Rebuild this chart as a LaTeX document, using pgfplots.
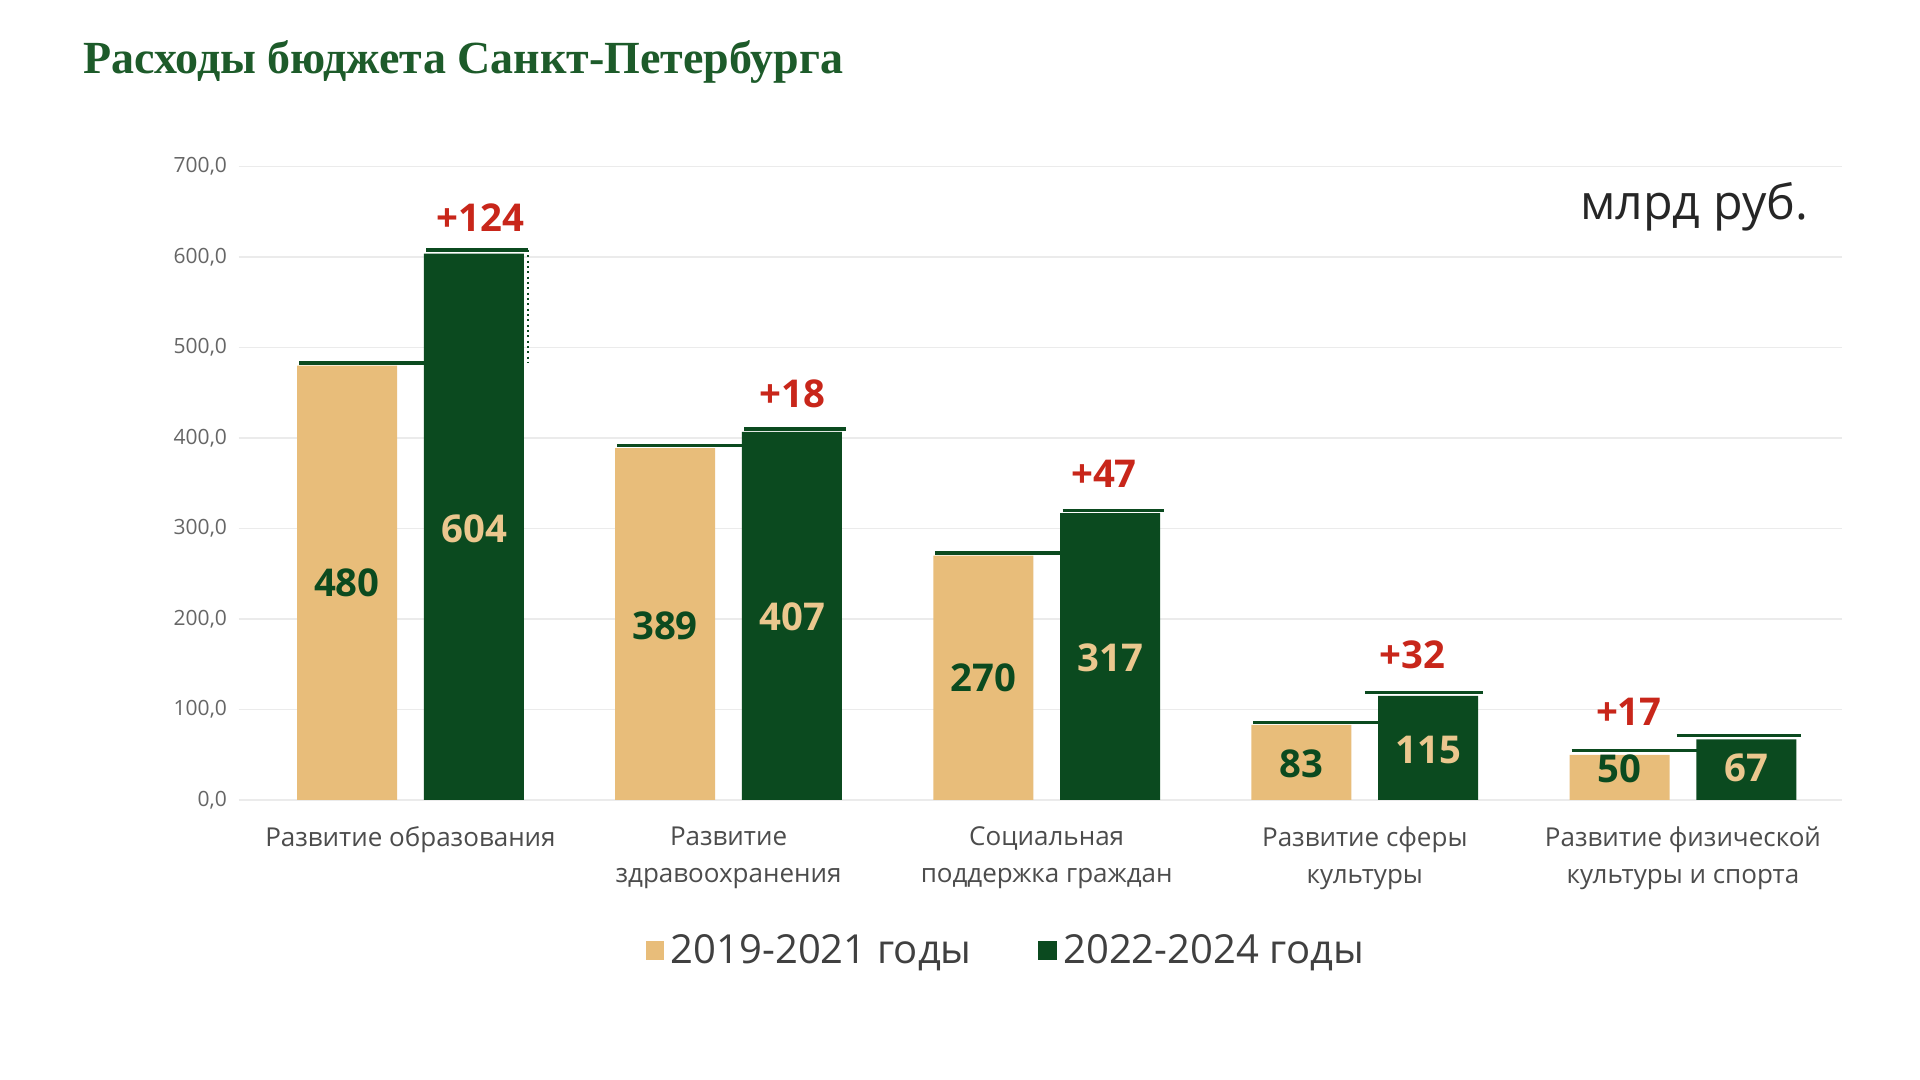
\documentclass[border=0pt]{standalone}
\usepackage{pgfplots}
\pgfplotsset{compat=1.18}
\usepackage{fontspec}
\setmainfont{Open Sans}
\newfontfamily\titlefont{Liberation Serif}
\definecolor{beige}{HTML}{E8BD7A}
\definecolor{dgreen}{HTML}{0B4A1F}
\definecolor{tgreen}{HTML}{1D5B2A}
\definecolor{dred}{HTML}{C8261A}
\begin{document}
\begin{tikzpicture}
\path[fill=white] (0,0) rectangle (576pt,324pt);
\node[anchor=west,text=tgreen,font=\titlefont\bfseries\fontsize{13.8}{15}\selectfont] at (21.5pt,305.5pt) {Расходы бюджета Санкт-Петербурга};
\node[anchor=east,font=\fontsize{14.5}{16}\selectfont,text=black!85] at (546pt,262pt) {млрд руб.};
\begin{axis}[at={(71.6pt,84pt)},anchor=south west,scale only axis,width=481pt,height=190pt,
 xmin=-0.54,xmax=4.5,ymin=0,ymax=700,ytick={0,100,...,700},
 axis line style={draw=none}, ymajorgrids, grid style={black!8},
 yticklabel style={font=\fontsize{6.3}{7}\selectfont,text=black!60},
 /pgf/number format/.cd,fixed,fixed zerofill,precision=1,use comma,assume math mode=true,
 /pgfplots/.cd,
 xtick={0,1,2,3,4}, xticklabels={{Развитие образования},{Развитие\\здравоохранения},{Социальная\\поддержка граждан},{Развитие сферы\\культуры},{Развитие физической\\культуры и спорта}},
 xticklabel style={align=center,font=\fontsize{7.8}{11}\selectfont,text=black!70,anchor=north,yshift=-4.5pt},
 major tick length=0pt,
 legend style={at={(0.48,-0.19)},anchor=north,draw=none,legend columns=2,font=\fontsize{12}{13}\selectfont,text=black!75,/tikz/every even column/.append style={column sep=18pt}},
 legend image code/.code={\fill[#1] (0pt,-2.6pt) rectangle (5.5pt,3pt);},
 clip=false]
\addplot[ybar,bar width=30pt,fill=beige,draw=none,bar shift=-19pt] coordinates {(0,480)(1,389)(2,270)(3,83)(4,50)};
\addlegendentry{2019-2021 годы}
\addplot[ybar,bar width=30pt,fill=dgreen,draw=none,bar shift=19pt] coordinates {(0,604)(1,407)(2,317)(3,115)(4,67)};
\addlegendentry{2022-2024 годы}
\addplot[forget plot,dgreen,line width=1pt] coordinates {(-0.35,483)(0.05,483)};
\addplot[forget plot,dgreen,line width=1pt] coordinates {(0.05,608)(0.37,608)};
\addplot[forget plot,dgreen,line width=0.6pt,densely dotted] coordinates {(0.37,608)(0.37,483)};
\addplot[forget plot,dgreen,line width=1pt] coordinates {(0.65,392)(1.05,392)};
\addplot[forget plot,dgreen,line width=1pt] coordinates {(1.05,410)(1.37,410)};
\addplot[forget plot,dgreen,line width=1pt] coordinates {(1.65,273)(2.05,273)};
\addplot[forget plot,dgreen,line width=1pt] coordinates {(2.05,320)(2.37,320)};
\addplot[forget plot,dgreen,line width=1pt] coordinates {(2.65,86)(3.05,86)};
\addplot[forget plot,dgreen,line width=1pt] coordinates {(3.0,119)(3.37,119)};
\addplot[forget plot,dgreen,line width=1pt] coordinates {(3.65,55)(4.05,55)};
\addplot[forget plot,dgreen,line width=1pt] coordinates {(3.98,71)(4.37,71)};
\foreach \x/\y/\t in {-0.2/240/480,0.8/192/389,1.8/135/270,2.8/40/83,3.8/35/50}
  {\edef\tmp{\noexpand\node[text=dgreen,font=\noexpand\bfseries\noexpand\fontsize{11.5}{12}\noexpand\selectfont] at (axis cs:\x,\y) {\t};}\tmp}
\foreach \x/\y/\t in {0.2/300/604,1.2/202/407,2.2/157/317,3.2/55/115,4.2/35/67}
  {\edef\tmp{\noexpand\node[text=beige!85!white,font=\noexpand\bfseries\noexpand\fontsize{11.5}{12}\noexpand\selectfont] at (axis cs:\x,\y) {\t};}\tmp}
\foreach \x/\y/\t in {0.22/644/+124,1.2/449/+18,2.18/360/+47,3.15/160/+32,3.83/97/+17}
  {\edef\tmp{\noexpand\node[text=dred,font=\noexpand\bfseries\noexpand\fontsize{11.5}{12}\noexpand\selectfont] at (axis cs:\x,\y) {\t};}\tmp}
\end{axis}
\end{tikzpicture}
\end{document}
